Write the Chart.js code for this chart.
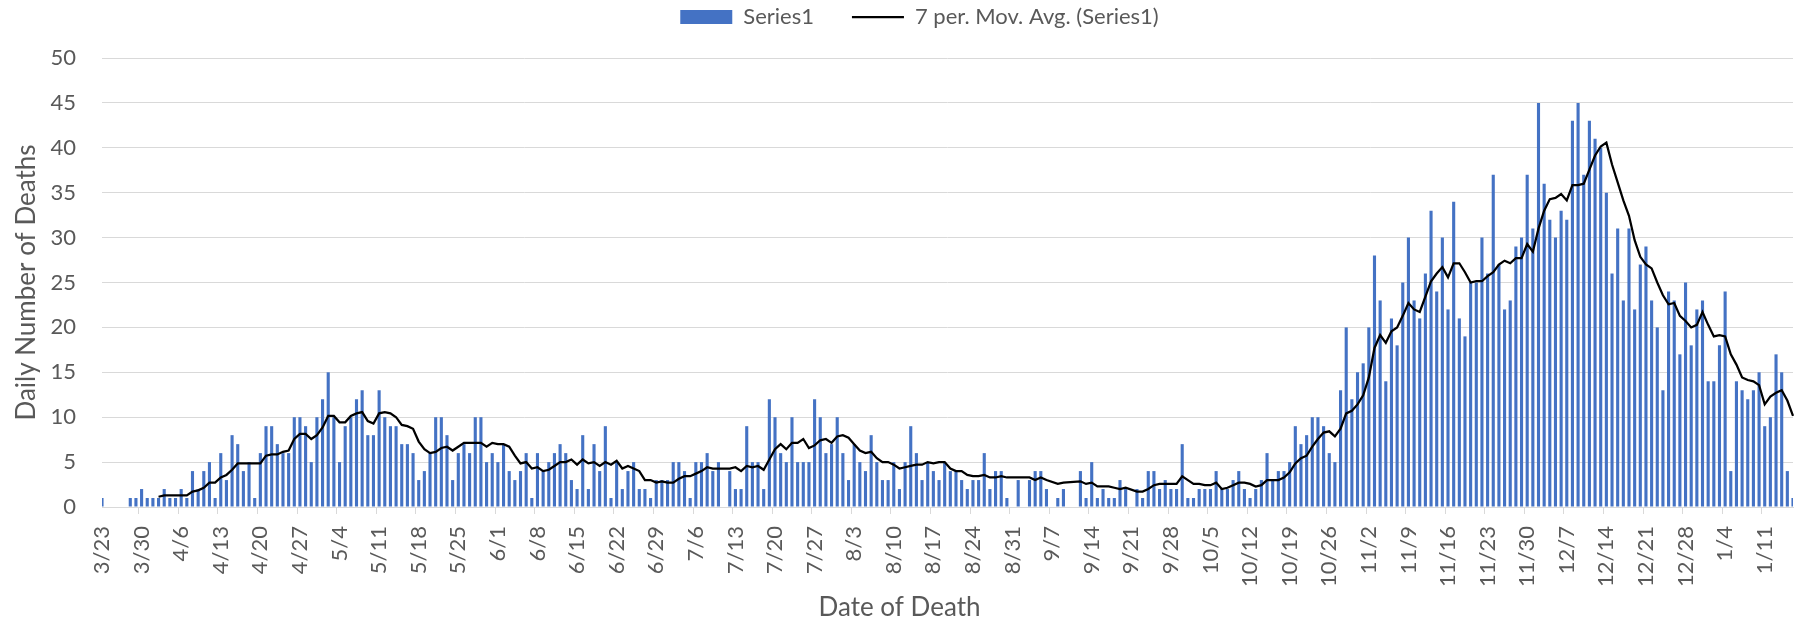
<!DOCTYPE html>
<html lang="en">
<head>
<meta charset="utf-8">
<title>Daily Number of Deaths</title>
<script src="https://cdn.jsdelivr.net/npm/chart.js@4.4.1/dist/chart.umd.min.js"></script>
<style>
    html, body { margin: 0; padding: 0; background: #ffffff; }
    #chartDeaths { display: block; }
</style>
</head>
<body>
<canvas id="chartDeaths" width="1799" height="626"></canvas>
<script>
// ============================================
// DATA
// ============================================

// first day of the series (3/23), one bar per day
const FIRST_DAY = { year: 2020, month: 3, day: 23 };

// daily deaths, one row per week starting 3/23 (null = no entry that day)
const dailyDeaths = [
    1, null, null, null, null, 1, 1,
    2, 1, 1, 1, 2, 1, 1,
    2, 1, 4, 2, 4, 5, 1,
    6, 3, 8, 7, 4, 5, 1,
    6, 9, 9, 7, 6, 6, 10,
    10, 9, 5, 10, 12, 15, 10,
    5, 9, 10, 12, 13, 8, 8,
    13, 10, 9, 9, 7, 7, 6,
    3, 4, 6, 10, 10, 8, 3,
    6, 7, 6, 10, 10, 5, 6,
    5, 7, 4, 3, 4, 6, 1,
    6, 4, 5, 6, 7, 6, 3,
    2, 8, 2, 7, 4, 9, 1,
    5, 2, 4, 5, 2, 2, 1,
    3, 3, 3, 5, 5, 4, 1,
    5, 5, 6, 4, 5, null, 4,
    2, 2, 9, 5, 5, 2, 12,
    10, 6, 5, 10, 5, 5, 5,
    12, 10, 6, 7, 10, 6, 3,
    7, 5, 4, 8, 5, 3, 3,
    5, 2, 5, 9, 6, 3, 5,
    4, 3, 5, 4, 4, 3, 2,
    3, 3, 6, 2, 4, 4, 1,
    null, 3, null, 3, 4, 4, 2,
    null, 1, 2, null, null, 4, 1,
    5, 1, 2, 1, 1, 3, 2,
    null, 2, 1, 4, 4, 2, 3,
    2, 2, 7, 1, 1, 2, 2,
    2, 4, 2, 2, 3, 4, 2,
    1, 2, 3, 6, 3, 4, 4,
    5, 9, 7, 8, 10, 10, 9,
    6, 5, 13, 20, 12, 15, 16,
    20, 28, 23, 14, 21, 18, 25,
    30, 23, 21, 26, 33, 24, 30,
    22, 34, 21, 19, 25, 25, 30,
    26, 37, 27, 22, 23, 29, 30,
    37, 31, 45, 36, 32, 30, 33,
    32, 43, 45, 37, 43, 41, 40,
    35, 26, 31, 23, 31, 22, 27,
    29, 23, 20, 13, 24, 23, 17,
    25, 18, 22, 23, 14, 14, 18,
    24, 4, 14, 13, 12, 13, 15,
    9, 10, 17, 15, 4, 1,
];

const AVG_PERIOD = 7;          // trendline period
const LABEL_EVERY = 7;         // one date label per week
const yTickValues = [0, 5, 10, 15, 20, 25, 30, 35, 40, 45, 50];

const SERIES_NAME = "Series1";
const AVG_NAME = "7 per. Mov. Avg. (Series1)";
const X_TITLE = "Date of Death";
const Y_TITLE = "Daily Number of Deaths";

// category labels "m/d" for each day
const dayLabels = dailyDeaths.map((_, i) => {
    const d = new Date(FIRST_DAY.year, FIRST_DAY.month - 1, FIRST_DAY.day + i);
    return (d.getMonth() + 1) + "/" + d.getDate();
});

// Excel moving-average trendline: mean of the last 7 non-blank days
function movingAverage(values, period) {
    const seen = [];
    return values.map((v) => {
        if (v === null) return null;
        seen.push(v);
        if (seen.length < period) return null;
        return seen.slice(-period).reduce((a, b) => a + b, 0) / period;
    });
}
const dailyAverage = movingAverage(dailyDeaths, AVG_PERIOD);

// ============================================
// STYLE
// ============================================
const PALETTE = {
    bar:  "#4472C4",
    line: "#000000",
    text: "#595959",
    grid: "#D9D9D9",
};
const FONT = "'Lato', 'Open Sans', sans-serif";

Chart.defaults.font.family = FONT;
Chart.defaults.color = PALETTE.text;
Chart.defaults.animation = false;

// x axis title sits centred on the whole chart, like the Excel original
const xTitlePlugin = {
    id: "xTitle",
    afterDraw(chart) {
        const ctx = chart.ctx;
        ctx.save();
        ctx.font = "26px " + FONT;
        ctx.fillStyle = PALETTE.text;
        ctx.textAlign = "center";
        ctx.textBaseline = "middle";
        ctx.fillText(X_TITLE, chart.width / 2, 608);
        ctx.restore();
    },
};

// legend in the original sits a little right of centre and close to the top
const legendShift = {
    id: "legendShift",
    afterLayout(chart) {
        chart.legend.left += 23;
        chart.legend.right += 23;
        chart.legend.top -= 20;
        chart.legend.bottom -= 20;
    },
};

new Chart(document.getElementById("chartDeaths"), {
    data: {
        labels: dayLabels,
        datasets: [
            {
                type: "line",
                label: AVG_NAME,
                data: dailyAverage,
                borderColor: PALETTE.line,
                borderWidth: 2.25,
                pointRadius: 0,
                tension: 0,
                spanGaps: true,
                order: 0,
            },
            {
                type: "bar",
                label: SERIES_NAME,
                data: dailyDeaths,
                backgroundColor: PALETTE.bar,
                barPercentage: 0.55,
                categoryPercentage: 1.0,
                clip: 0,
                order: 1,
            },
        ],
    },
    options: {
        responsive: false,
        devicePixelRatio: 1,
        layout: { padding: { top: -20, right: 6, bottom: 0, left: 0 } },
        scales: {
            x: {
                offset: false,
                grid: {
                    drawOnChartArea: false,
                    drawTicks: true,
                    tickLength: 7,
                    color: (ctx) => (ctx.index % LABEL_EVERY === 0 ? PALETTE.grid : "transparent"),
                },
                border: { display: true, color: PALETTE.grid },
                ticks: {
                    autoSkip: false,
                    minRotation: 90,
                    maxRotation: 90,
                    padding: 12,
                    color: PALETTE.text,
                    font: { family: FONT, size: 22 },
                    callback: (val, i) => (i % LABEL_EVERY === 0 ? dayLabels[i] : ""),
                },
                afterFit: (scale) => {
                    scale.height = 119;
                    scale.paddingLeft = 0;
                    scale.paddingRight = 0;
                },
            },
            y: {
                min: yTickValues[0],
                max: yTickValues[yTickValues.length - 1],
                afterBuildTicks: (scale) => {
                    scale.ticks = yTickValues.map((v) => ({ value: v }));
                },
                grid: { color: PALETTE.grid, drawTicks: false },
                border: { display: false },
                ticks: {
                    padding: 26,
                    color: PALETTE.text,
                    font: { family: FONT, size: 22 },
                },
                title: {
                    display: true,
                    text: Y_TITLE,
                    color: PALETTE.text,
                    font: { family: FONT, size: 26, lineHeight: 1.2 },
                    padding: { top: 11, bottom: 0 },
                },
                afterFit: (scale) => {
                    scale.width = 102;
                    scale.paddingTop = 58;
                },
            },
        },
        plugins: {
            tooltip: { enabled: false },
            legend: {
                position: "top",
                labels: {
                    usePointStyle: true,
                    pointStyleWidth: 52,
                    boxWidth: 52,
                    boxHeight: 14,
                    padding: 38,
                    color: PALETTE.text,
                    font: { family: FONT, size: 22 },
                    generateLabels: () => [
                        {
                            text: SERIES_NAME,
                            fillStyle: PALETTE.bar,
                            strokeStyle: PALETTE.bar,
                            lineWidth: 0,
                            pointStyle: "rect",
                            fontColor: PALETTE.text,
                            hidden: false,
                            datasetIndex: 1,
                        },
                        {
                            text: AVG_NAME,
                            fillStyle: PALETTE.line,
                            strokeStyle: PALETTE.line,
                            lineWidth: 2.25,
                            pointStyle: "line",
                            fontColor: PALETTE.text,
                            hidden: false,
                            datasetIndex: 0,
                        },
                    ],
                },
            },
        },
    },
    plugins: [xTitlePlugin, legendShift],
});
</script>
</body>
</html>
